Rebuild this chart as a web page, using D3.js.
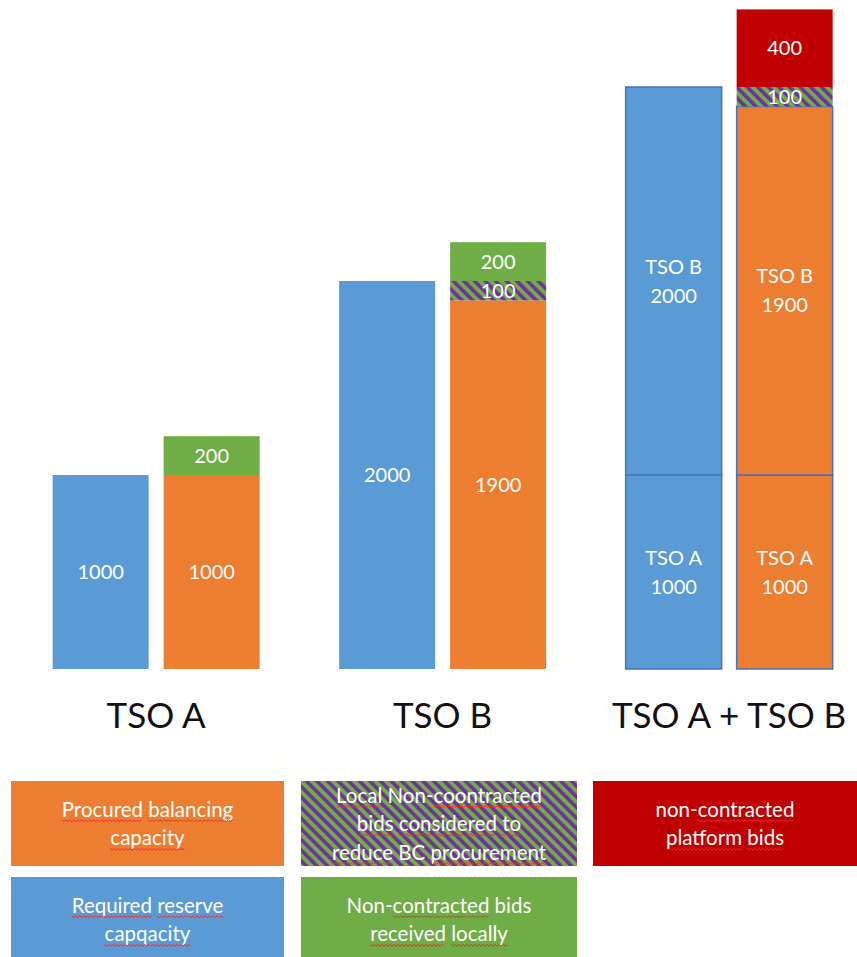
<!DOCTYPE html>
<html><head><meta charset="utf-8">
<script src="https://cdn.jsdelivr.net/npm/d3@7"></script>
<style>
body{margin:0;background:#fff}
svg{display:block}
text{font-family:Lato,"Open Sans",sans-serif}
</style>
</head><body>
<svg id="c" width="857" height="957"></svg>
<script>
// ---- data ----
const categories = ["TSO A", "TSO B", "TSO A + TSO B"];
const requiredTsoA = [1000, 0, 1000];
const requiredTsoB = [0, 2000, 2000];
const procuredTsoA = [1000, 0, 1000];
const procuredTsoB = [0, 1900, 1900];
const localConsidered = [0, 100, 100];
const localReceived = [200, 200, 0];
const platformBids = [0, 0, 400];
const yMax = 3400;

const ownerNames = {reqA: "TSO A", reqB: "TSO B", procA: "TSO A", procB: "TSO B"};

const legendKeys = ["procured", "considered", "platform", "required", "received"];
const legendLines = [
  ["*Procured *balancing", "*capacity"],
  ["*Local Non-*coontracted", "*bids *considered *to", "*reduce BC *procurement"],
  ["non-*contracted", "*platform *bids"],
  ["*Required *reserve", "*capqacity"],
  ["Non-*contracted bids", "*received *locally"]
];

// ---- styles ----
const fills = {
  reqA: "#5B9BD5", reqB: "#5B9BD5", procA: "#ED7D31", procB: "#ED7D31",
  considered: "url(#hatch)", received: "#70AD47", platform: "#C00000",
  procured: "#ED7D31", required: "#5B9BD5"
};

const svg = d3.select("#c");
const defs = svg.append("defs");
const pat = defs.append("pattern").attr("id", "hatch")
  .attr("patternUnits", "userSpaceOnUse").attr("width", 7.5).attr("height", 7.5)
  .attr("patternTransform", "rotate(-45)");
pat.append("rect").attr("width", 7.5).attr("height", 7.5).attr("fill", "#70AD47");
pat.append("rect").attr("width", 3.6).attr("height", 7.5).attr("fill", "#7030A0");

// ---- scales ----
const y = d3.scaleLinear().domain([0, yMax]).range([669, 9.4]);
const x = d3.scaleBand().domain(categories).range([12.9, 872.4]);
const xs = d3.scaleBand().domain(["required", "procured"])
  .range([x.bandwidth() / 2 - 103.5, x.bandwidth() / 2 + 103.5])
  .paddingInner(15 / 111);

const rows = categories.map((c, i) => ({
  cat: c, idx: i,
  reqA: requiredTsoA[i], reqB: requiredTsoB[i],
  procA: procuredTsoA[i], procB: procuredTsoB[i],
  considered: localConsidered[i], received: localReceived[i], platform: platformBids[i]
}));

const isCombined = i => requiredTsoA[i] > 0 && requiredTsoB[i] > 0;

const reqStack = d3.stack().keys(["reqA", "reqB"])(rows);
const procStack = d3.stack().keys(["procA", "procB", "considered", "received", "platform"])(rows);

const segs = [];
reqStack.forEach(s => s.forEach(d => { if (d[1] - d[0] > 0) segs.push({key: s.key, bar: "required", y0: d[0], y1: d[1], row: d.data}); }));
procStack.forEach(s => s.forEach(d => { if (d[1] - d[0] > 0) segs.push({key: s.key, bar: "procured", y0: d[0], y1: d[1], row: d.data}); }));

const g = svg.append("g");
g.selectAll("rect.seg").data(segs).join("rect").attr("class", "seg")
  .attr("x", d => x(d.row.cat) + xs(d.bar))
  .attr("width", xs.bandwidth())
  .attr("y", d => y(d.y1))
  .attr("height", d => y(d.y0) - y(d.y1))
  .attr("fill", d => fills[d.key])
  .attr("stroke", d => (isCombined(d.row.idx) && ownerNames[d.key]) ? "#4472C4" : "none")
  .attr("stroke-width", 1.5);

// labels
const lh = 29;
segs.forEach(d => {
  const lines = (isCombined(d.row.idx) && ownerNames[d.key]) ? [ownerNames[d.key], String(d.y1 - d.y0)] : [String(d.y1 - d.y0)];
  const cx = x(d.row.cat) + xs(d.bar) + xs.bandwidth() / 2;
  const cy = y((d.y0 + d.y1) / 2);
  const t = g.append("text").attr("text-anchor", "middle").attr("fill", "#fff")
    .attr("font-size", 20);
  lines.forEach((l, k) => {
    t.append("tspan").attr("x", cx)
      .attr("y", cy + (k - (lines.length - 1) / 2) * lh + 7)
      .text(l);
  });
});

// category labels
g.selectAll("text.cat").data(categories).join("text").attr("class", "cat")
  .attr("x", d => x(d) + x.bandwidth() / 2)
  .attr("y", 728)
  .attr("text-anchor", "middle").attr("font-size", 35).attr("fill", "#111")
  .text(d => d);

// ---- legend ----
const legCols = [11, 301, 593];
const legW = [273, 276, 264];
const legRows = [781, 877];
const legH = 85;
const legLh = 28.5;
const flagged = [];
legendKeys.forEach((k, i) => {
  const col = i % 3, row = Math.floor(i / 3);
  const lx = legCols[col], ly = legRows[row];
  const lg = svg.append("g");
  lg.append("rect").attr("x", lx).attr("y", ly).attr("width", legW[col]).attr("height", legH)
    .attr("fill", fills[k]);
  const lines = legendLines[i];
  const cx = lx + legW[col] / 2, cy = ly + legH / 2;
  const t = lg.append("text").attr("text-anchor", "middle").attr("fill", "#fff").attr("font-size", 20.5);
  lines.forEach((l, j) => {
    const by = cy + (j - (lines.length - 1) / 2) * legLh + 7.5;
    const line = t.append("tspan").attr("x", cx).attr("y", by);
    l.split(/(\*[A-Za-z]+)/).filter(p => p.length).forEach(p => {
      if (p[0] === "*") flagged.push({node: line.append("tspan").text(p.slice(1)).node(), by: by});
      else line.append("tspan").text(p);
    });
  });
});

// spell-check style wavy underlines
const svgRect = svg.node().getBoundingClientRect();
flagged.forEach(f => {
  const r = f.node.getBoundingClientRect();
  const x0 = r.left - svgRect.left, x1 = r.right - svgRect.left;
  const yy = f.by + 4;
  const pts = [];
  let up = true;
  for (let px = x0; px <= x1 + 0.01; px += 2) { pts.push([px, yy + (up ? -1 : 1)]); up = !up; }
  svg.append("path").attr("d", d3.line()(pts)).attr("fill", "none")
    .attr("stroke", "#e8302a").attr("stroke-width", 1);
});
</script>
</body></html>
